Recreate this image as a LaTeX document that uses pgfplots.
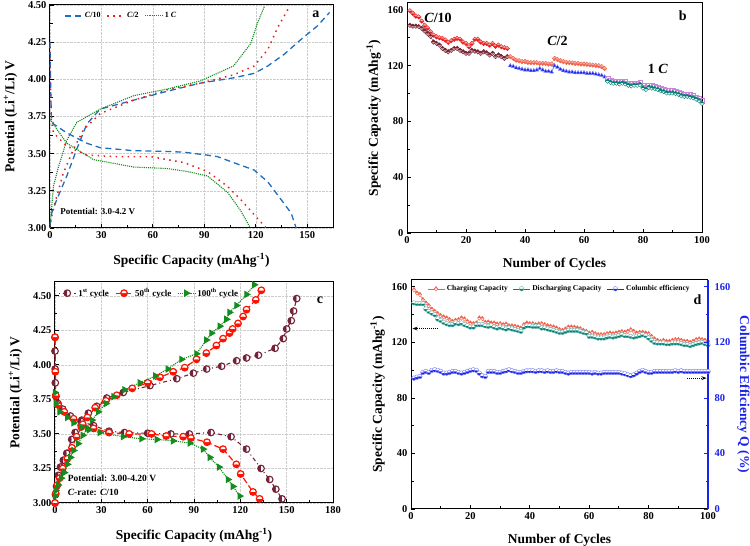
\documentclass[border=0pt]{standalone}
\usepackage{fontspec}
\setmainfont{Liberation Serif}
\usepackage{pgfplots}
\pgfplotsset{compat=1.18}
\usepackage{pgfplotstable}
\usetikzlibrary{plotmarks,arrows.meta}

\definecolor{cblue}{RGB}{30,110,190}
\definecolor{cred}{RGB}{235,30,30}
\definecolor{cgreen}{RGB}{20,140,30}
\definecolor{maroon}{RGB}{115,35,55}
\definecolor{tomatoc}{RGB}{240,100,70}
\definecolor{pblue}{RGB}{25,35,235}
\definecolor{orchidc}{RGB}{205,130,220}
\definecolor{tealc}{RGB}{0,128,115}
\definecolor{salmonc}{RGB}{240,95,75}
\definecolor{lpink}{RGB}{245,170,170}

% rate capability (panel b)
\pgfplotstableread{
cyc chg dis
1 159.4 149
2 157.5 148.4
3 155.6 148.4
4 155 148
5 152 146.8
6 149 145
7 147 143
8 144.4 141
9 142 137
10 140.8 136
11 140 134.8
12 139.6 132.4
13 138.4 131
14 136.8 130
15 138 131
16 139 132.4
17 139.6 132.4
18 139 131
19 137 130
20 136 128.9
21 133.6 128.9
22 136 131
23 139 130.5
24 139 130
25 137 128.9
26 136 130
27 136 129.3
28 134.8 127.7
29 136 128.9
30 134 126.5
31 134.8 127.7
32 133.6 126.5
33 133 125.3
34 132.4 126.5
}\tabCten
\pgfplotstableread{
cyc chg dis
35 126.5 120
36 125.3 119.5
37 124 118.5
38 123.6 118
39 123 117.5
40 123 117
41 122.4 117
42 122.2 116.5
43 122.2 116.5
44 122.2 117
45 121.7 118
46 121.7 117
47 121.7 116
48 121.2 116
49 121.2 115.5
50 125.3 120
51 124.6 119
52 123.6 117.5
53 123 116.5
54 122.4 116
55 122.2 115.5
56 122 115.5
57 121.7 115
58 121.7 115
59 121.2 115
60 121.2 115
61 121 114.5
62 120.7 114.5
63 120.5 114.5
64 120.2 114
65 120 113.5
66 119.3 113
67 118 112
}\tabCtwo
\pgfplotstableread{
cyc chg dis
68 110.5 109
69 109.5 108
70 109 107.5
71 109 107.5
72 108.5 107
73 109 107.5
74 108.5 107
75 107.5 106
76 107 105.5
77 107.5 106
78 107.5 106
79 108 106.5
80 105.5 104
81 104.5 103
82 106 104.5
83 105.5 104
84 105 103.5
85 104.5 103
86 103.5 102
87 103 101.5
88 102 100.5
89 102 100.5
90 102 100.5
91 101.5 100
92 101 99.5
93 100 98.5
94 99.5 98
95 99.5 98
96 99 97.5
97 98.5 97
98 97.5 96
99 96.5 95
100 95 93
}\tabCone

% cycling at C/10 (panel d)
\pgfplotstableread{
cyc chg dis ce
1 158 148.5 94.3
2 155.7 148 95
3 154.5 148 95.5
4 150.9 148 98.4
5 148.5 144.1 99.1
6 146.5 142.4 98.4
7 144 141.2 99.9
8 142.4 140 100.3
9 140.8 136.9 99.9
10 139.3 135.9 99.1
11 138.4 134.5 97.9
12 137.6 133.5 97.9
13 136.4 132.8 98.4
14 135.2 132.8 99.1
15 136 134 99.1
16 136.4 133.5 98.4
17 137.6 134 97.9
18 136.9 132.8 98.4
19 135.2 132 99.1
20 134 131.1 99.9
21 133.5 131.1 100.3
22 134 132.8 99.9
23 137.6 132.8 97.9
24 137.2 132.8 96
25 134.5 132 95.5
26 134.7 131.6 99.1
27 134 132 99.1
28 134 131.1 99.1
29 133.3 130.4 98.4
30 133.5 131.1 98.4
31 132.8 130.4 99.1
32 133.3 129.7 99.6
33 132 130.4 100.3
34 132 129.7 99.6
35 131.6 129.2 99.1
36 131.1 128.7 98.4
37 130.4 128 98.4
38 132.8 131.1 99.1
39 134 132 99.6
40 133.5 132 99.6
41 133.5 131.6 99.6
42 132.8 131.6 99.1
43 133.3 131.6 99.6
44 133.5 130.4 99.6
45 132.8 130.4 99.1
46 132 129.7 99.6
47 131.6 129.2 99.1
48 131.1 128.7 99.1
49 130.4 128 99.6
50 129.2 127.3 99.1
51 128.7 127.3 99.1
52 129.7 128 98.4
53 131.1 128.7 97.9
54 131.1 128.7 98.4
55 130.9 128.7 98.4
56 130.4 128.7 98.4
57 129.9 128 98.4
58 128.7 127.3 98.4
59 128 126.8 98.4
60 126.8 124.4 98.4
61 127.3 124.4 97.9
62 126.3 123.9 98.4
63 125.6 123.2 97.9
64 125.6 123.2 97.9
65 125.6 123.2 98.4
66 126.3 123.9 98.4
67 126.8 124.4 98.4
68 126.3 123.9 98.4
69 126.8 124.4 98.4
70 127.3 124.9 98.4
71 127.8 125.6 97.9
72 127.3 124.9 97.4
73 128 124.9 96.7
74 129.2 124.4 96
75 128 123.9 96.7
76 126.8 124.4 97.9
77 127.3 124.9 99.1
78 127.3 125.6 99.9
79 126.8 124.9 99.1
80 126.3 123.2 98.4
81 124.4 121.5 98.4
82 122.5 120 99.1
83 121.5 119.6 99.1
84 120.8 119.6 99.1
85 121.5 119.6 99.1
86 120.8 119.1 99.1
87 120.8 119.1 99.1
88 121.5 119.6 99.1
89 122 119.6 99.6
90 122 119.6 99.1
91 121.5 119.1 99.6
92 120.8 118.4 99.1
93 120.8 118.4 99.1
94 120 117.7 99.1
95 120.8 118.4 99.1
96 122 119.1 99.1
97 122.5 119.6 99.1
98 122 120 99.1
99 121.5 119.1 99.1
100 120.8 118.4 99.1
}\tabCyc

\pgfplotsset{
  panel/.style={
    scale only axis,
    anchor=south west,
    axis line style={line width=1pt},
    tick align=inside,
    tick pos=left,
    major tick length=4pt,
    minor tick length=2.5pt,
    every tick/.append style={black, line width=0.9pt},
    tick label style={font=\fontsize{10.5}{12}\selectfont\bfseries},
    label style={font=\fontsize{13.5}{15}\selectfont\bfseries},
    xlabel shift=8pt,
    /pgf/number format/assume math mode=true,
    legend style={draw=none, fill=none, font=\fontsize{8}{9}\selectfont\bfseries},
    legend cell align=left,
    clip=false,
  },
  volt/.style={
    yticklabel style={/pgf/number format/.cd, fixed, fixed zerofill, precision=2},
    grid=major, grid style={densely dotted, gray!40},
    minor x tick num=1, minor y tick num=1,
    xlabel={Specific Capacity (mAhg\textsuperscript{-1})},
    ylabel={Potential (Li\textsuperscript{+}/Li) V},
    ylabel shift=4pt,
  },
}

\begin{document}
\begin{tikzpicture}
\useasboundingbox (0,0) rectangle (750pt,546pt);

% ---------------- a ----------------
\begin{axis}[panel, volt, at={(50pt,318pt)}, width=283pt, height=223pt,
  xmin=0, xmax=165, ymin=3, ymax=4.5,
  xtick={0,30,...,150}, ytick={3,3.25,...,4.5},
  legend style={at={(0.04,0.985)}, anchor=north west}, legend columns=3,
  legend style={/tikz/every even column/.style={column sep=4pt}}]
\addplot[cblue, line width=1.3pt, dash pattern=on 6pt off 4pt] coordinates {
(0,3.02)(1,3.10)(3.9,3.19)(9.8,3.35)(15.6,3.53)(21.5,3.70)(29.3,3.80)(48.8,3.86)
(68.4,3.92)(87.9,3.975)(107,4.01)(119,4.04)(127,4.09)(136.7,4.17)(146.5,4.27)(156,4.36)(163,4.45)};
\addlegendentry{\textit{C}/10}
\addplot[cred, line width=1.5pt, dash pattern=on 1.5pt off 4.5pt] coordinates {
(0,3.0)(1,3.08)(3.9,3.21)(7.8,3.37)(13.7,3.53)(19.5,3.66)(29.3,3.77)(48.8,3.86)
(68.4,3.93)(87.9,3.975)(107,4.03)(119,4.09)(127,4.2)(132.8,4.35)(138.7,4.47)};
\addlegendentry{\textit{C}/2}
\addplot[cgreen, line width=1.1pt, densely dotted] coordinates {
(0,3.0)(0.4,3.06)(2,3.28)(4.9,3.41)(9.8,3.59)(15.6,3.71)(29.3,3.80)(48.8,3.89)
(68.4,3.935)(87.9,3.99)(107,4.09)(117,4.24)(121,4.38)(125,4.49)};
\addlegendentry{1 \textit{C}}
\addplot[cblue, line width=1.3pt, dash pattern=on 6pt off 4pt, forget plot] coordinates {
(0,4.25)(0.3,4.0)(0.8,3.75)(2,3.70)(9.8,3.64)(21.5,3.57)(29.3,3.54)(48.8,3.52)(68.4,3.515)
(78,3.51)(91.8,3.49)(97.7,3.48)(107,3.44)(119,3.39)(127,3.31)(134.8,3.19)(140.6,3.10)(143.5,3.0)};
\addplot[cred, line width=1.5pt, dash pattern=on 1.5pt off 4.5pt, forget plot] coordinates {
(0,4.22)(0.3,3.95)(0.8,3.72)(2,3.64)(9.8,3.55)(21.5,3.49)(39,3.48)(58.6,3.48)(68.4,3.46)
(78.1,3.44)(91.8,3.38)(103.5,3.28)(111.3,3.19)(119,3.09)(126,3.0)};
\addplot[cgreen, line width=1.1pt, densely dotted, forget plot] coordinates {
(0,3.73)(9.8,3.57)(25.4,3.46)(48.8,3.41)(68.4,3.40)(80,3.38)(91.8,3.35)(103.5,3.24)(111,3.12)(116.8,3.0)};
\node[font=\fontsize{9}{10}\selectfont\bfseries, anchor=west] at (axis cs:4,3.11) {Potential: 3.0-4.2 V};
\node[font=\fontsize{14}{15}\selectfont\bfseries] at (axis cs:155,4.44) {a};
\end{axis}

% ---------------- b ----------------
\begin{axis}[panel, at={(407pt,313pt)}, width=295pt, height=230pt,
  xmin=0, xmax=100, ymin=0, ymax=165,
  xtick={0,20,...,100}, ytick={0,40,...,160},
  minor x tick num=1, minor y tick num=1,
  xlabel={Number of Cycles}, ylabel={Specific Capacity (mAhg\textsuperscript{-1})},
  mark size=2.3pt]
\addplot[cred, thin, mark=halfsquare*, mark options={fill=cred, draw=cred}, mark color=lpink] table[x=cyc, y=chg] {\tabCten};
\addplot[maroon, thin, mark=halfsquare*, mark options={fill=maroon, draw=maroon, rotate=180}, mark color=lpink!70!gray] table[x=cyc, y=dis] {\tabCten};
\addplot[tomatoc, thin, mark=halfsquare*, mark options={fill=tomatoc, draw=tomatoc}, mark color=lpink] table[x=cyc, y=chg] {\tabCtwo};
\addplot[pblue, thin, mark=triangle*, mark options={fill=pblue, draw=pblue!50}] table[x=cyc, y=dis] {\tabCtwo};
\addplot[orchidc, thin, mark=square, mark options={draw=orchidc}] table[x=cyc, y=chg] {\tabCone};
\addplot[tealc, thin, mark=halfsquare*, mark options={fill=tealc, draw=tealc, rotate=180}, mark color=white] table[x=cyc, y=dis] {\tabCone};
\node[font=\fontsize{14}{15}\selectfont\bfseries] at (axis cs:10.5,154) {\textit{C}/10};
\node[font=\fontsize{14}{15}\selectfont\bfseries] at (axis cs:51,138) {\textit{C}/2};
\node[font=\fontsize{14}{15}\selectfont\bfseries] at (axis cs:85,118) {1 \textit{C}};
\node[font=\fontsize{14}{15}\selectfont\bfseries] at (axis cs:93.5,156) {b};
\end{axis}

% ---------------- c ----------------
\begin{axis}[panel, volt, at={(55pt,43pt)}, width=278pt, height=221pt,
  xmin=0, xmax=180, ymin=3, ymax=4.6,
  xtick={0,30,...,180}, ytick={3,3.25,...,4.5},
  mark size=3.3pt,
  legend style={at={(0.0,0.99)}, anchor=north west, font=\fontsize{9}{10}\selectfont\bfseries}, legend columns=3,
  legend style={/tikz/every even column/.style={column sep=4pt}}]
\addplot[maroon, line width=1.1pt, dash pattern=on 1pt off 3pt on 4pt off 3pt, mark=halfcircle*, mark options={solid, fill=maroon, draw=maroon, rotate=90}, mark color=white] coordinates {
(0,3.0)(0.3,3.06)(1,3.12)(2.2,3.20)(3.5,3.26)(5.4,3.31)(7.6,3.36)(10.8,3.46)(13,3.51)(17.3,3.60)
(21.6,3.65)(27,3.70)(33.5,3.76)(44.2,3.80)(61.5,3.85)(78.8,3.90)(89.6,3.94)(98.2,3.97)(107.9,3.99)
(117.6,4.03)(124,4.05)(131.7,4.07)(142.5,4.12)(147.8,4.19)(150,4.26)(153,4.32)(154.5,4.39)(156.5,4.48)};
\addlegendentry{1\textsuperscript{st} cycle}
\addplot[red!85!orange, line width=1.2pt, dash pattern=on 6pt off 3pt, mark=halfcircle*, mark options={solid, fill=red!85!orange, draw=red!85!orange, rotate=180}, mark color=white] coordinates {
(0,3.0)(0.5,3.07)(1.5,3.13)(3,3.18)(5,3.25)(8,3.32)(11,3.40)(14,3.48)(17,3.55)(21,3.62)(26,3.69)
(33,3.74)(40,3.78)(50,3.83)(60,3.87)(68,3.91)(76.5,3.95)(84,3.98)(91.6,4.04)(98,4.085)(104.5,4.14)
(108.8,4.19)(113,4.23)(115,4.26)(118.5,4.30)(121.8,4.35)(124,4.40)(130,4.47)(133.6,4.54)};
\addlegendentry{50\textsuperscript{th} cycle}
\addplot[cgreen, line width=1.1pt, densely dotted, mark=triangle*, mark options={solid, fill=cgreen, draw=cgreen, rotate=-90}] coordinates {
(0,3.05)(0.5,3.09)(2,3.13)(4,3.18)(6,3.22)(8,3.28)(10,3.33)(12,3.38)(15,3.43)(18,3.49)(21,3.54)
(24,3.60)(28,3.66)(33,3.72)(38,3.77)(45,3.82)(55,3.87)(65,3.92)(73,3.97)(81.9,4.04)(91.6,4.08)
(98,4.18)(101.3,4.23)(106.7,4.28)(111,4.33)(113,4.38)(117.5,4.43)(124,4.51)(129,4.58)};
\addlegendentry{100\textsuperscript{th} cycle}
\addplot[maroon, line width=1.1pt, dash pattern=on 1pt off 3pt on 4pt off 3pt, mark=halfcircle*, mark options={solid, fill=maroon, draw=maroon, rotate=90}, mark color=white, forget plot] coordinates {
(0,4.2)(0,4.1)(0.1,3.97)(0.2,3.87)(0.6,3.77)(2,3.72)(5,3.68)(10,3.63)(17,3.59)(25,3.56)(35,3.52)
(45,3.51)(60,3.505)(75,3.50)(87,3.50)(101,3.51)(114,3.48)(124,3.39)(133.4,3.25)(139,3.17)(143,3.10)(147,3.03)};
\addplot[red!85!orange, line width=1.2pt, dash pattern=on 6pt off 3pt, mark=halfcircle*, mark options={solid, fill=red!85!orange, draw=red!85!orange, rotate=180}, mark color=white, forget plot] coordinates {
(0,4.2)(0.2,3.95)(0.5,3.78)(2,3.71)(6,3.66)(12,3.61)(18,3.57)(25,3.54)(35,3.51)(48,3.50)(62.5,3.50)
(72,3.485)(83,3.48)(88,3.47)(98.4,3.44)(108.8,3.39)(117.4,3.28)(120.2,3.21)(128.2,3.08)(132.5,3.03)};
\addplot[cgreen, line width=1.1pt, densely dotted, mark=triangle*, mark options={solid, fill=cgreen, draw=cgreen, rotate=-90}, forget plot] coordinates {
(0,3.80)(0.5,3.72)(3,3.66)(8,3.62)(12,3.58)(17,3.55)(22,3.53)(29,3.51)(44,3.48)(56,3.465)(66,3.46)
(76.5,3.45)(87.3,3.434)(95.9,3.39)(100.2,3.33)(106.2,3.26)(112,3.17)(115.2,3.12)(119.6,3.05)};
\node[font=\fontsize{9.5}{10}\selectfont\bfseries, anchor=west] at (axis cs:6,3.176) {Potential: 3.00-4.20 V};
\node[font=\fontsize{9.5}{10}\selectfont\bfseries, anchor=west] at (axis cs:6,3.08) {\textit{C}-rate: \textit{C}/10};
\node[font=\fontsize{14}{15}\selectfont\bfseries] at (axis cs:171.5,4.47) {c};
\end{axis}

% ---------------- d ----------------
\begin{axis}[panel, at={(411pt,37pt)}, width=297pt, height=229pt,
  xmin=0, xmax=100, ymin=0, ymax=165,
  xtick={0,20,...,100}, ytick={0,40,...,160},
  minor x tick num=1, minor y tick num=1,
  axis y line*=left, axis x line*=bottom,
  xlabel={Number of Cycles}, ylabel={Specific Capacity (mAhg\textsuperscript{-1})},
  mark size=2.3pt]
\addplot[salmonc, thin, mark=halfdiamond*, mark options={fill=salmonc, draw=salmonc, rotate=180}, mark color=white] table[x=cyc, y=chg] {\tabCyc};
\addplot[tealc, thin, mark=halfcircle*, mark options={fill=tealc, draw=tealc!60, rotate=180}, mark color=white] table[x=cyc, y=dis] {\tabCyc};
\draw[densely dotted, line width=1pt, -{Stealth[length=5pt]}] (axis cs:9,130) -- (axis cs:0.5,130);
\draw[densely dotted, line width=1pt, -{Stealth[length=5pt]}] (axis cs:93,94.3) -- (axis cs:99.5,94.3);
\node[font=\fontsize{14}{15}\selectfont\bfseries] at (axis cs:96.5,150.5) {d};
\draw[line width=1pt] (rel axis cs:0,1) -- (rel axis cs:1,1);
\end{axis}
\begin{axis}[panel, at={(411pt,37pt)}, width=297pt, height=229pt,
  xmin=0, xmax=100, ymin=0, ymax=165,
  axis x line=none, axis y line*=right,
  ytick pos=right, yticklabel pos=right,
  ytick={0,40,...,160}, minor y tick num=1,
  y axis line style={pblue, line width=1.2pt},
  every y tick/.append style={pblue},
  yticklabel style={pblue, xshift=3pt},
  ylabel={Columbic Efficiency Q (\%)},
  ylabel near ticks,
  ylabel style={pblue, rotate=180, font=\fontsize{13.5}{15}\selectfont\bfseries},
  mark size=2.3pt,
  legend style={at={(0.5,0.995)}, anchor=north, font=\fontsize{7.5}{8}\selectfont\bfseries},
  legend columns=3,
  legend style={/tikz/every even column/.style={column sep=3pt}}]
\addlegendimage{salmonc, thin, mark=halfdiamond*, mark options={fill=salmonc, draw=salmonc, rotate=180}, mark color=white}
\addlegendentry{Charging Capacity}
\addlegendimage{tealc, thin, mark=halfcircle*, mark options={fill=tealc, draw=tealc!60, rotate=180}, mark color=white}
\addlegendentry{Discharging Capacity}
\addplot[pblue, thin, mark=halfcircle*, mark options={fill=pblue, draw=pblue!60, rotate=180}, mark color=white] table[x=cyc, y=ce] {\tabCyc};
\addlegendentry{Columbic efficiency}
\end{axis}
\end{tikzpicture}
\end{document}
